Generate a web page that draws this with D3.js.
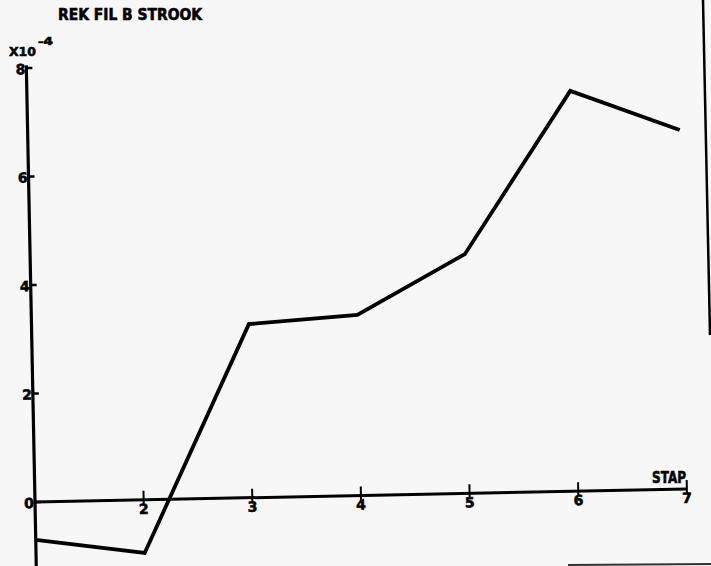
<!DOCTYPE html>
<html>
<head>
<meta charset="utf-8">
<script src="https://cdn.jsdelivr.net/npm/d3@7"></script>
<style>
  html, body { margin: 0; padding: 0; background: #f7f7f7; }
  svg { display: block; }
  text { font-family: "DejaVu Sans", sans-serif; font-weight: bold; fill: #000; stroke: #000; stroke-width: 0.6; }
</style>
</head>
<body>
<svg id="chart" width="711" height="566"></svg>
<script>
// Data (values in units of 1e-4)
const steps = [1, 2, 3, 4, 5, 6, 7];
const values = [-0.70, -0.98, 3.20, 3.33, 4.41, 7.38, 6.62];
const xTicks = [2, 3, 4, 5, 6, 7];
const yTicks = [0, 2, 4, 6, 8];
const title = "REK FIL B STROOK";
const xLabel = "STAP";
const yScaleBase = "X10";
const yScaleExp = "-4";

const W = 711, H = 566;
const svg = d3.select("#chart");
svg.append("rect").attr("width", W).attr("height", H).attr("fill", "#f7f7f7");

const x0 = 35, y0 = 502;
const x = d3.scaleLinear().domain([1, 7]).range([x0, 687]);
const y = d3.scaleLinear().domain([0, 8]).range([y0, 68]);

// whole plot is slightly tilted (scanned plot)
const g = svg.append("g").attr("transform", `rotate(-1.14, ${x0}, ${y0})`);

// y axis line
g.append("line")
  .attr("x1", x(1)).attr("x2", x(1))
  .attr("y1", y(-1.5)).attr("y2", y(8.05))
  .attr("stroke", "#000").attr("stroke-width", 3.2);

// x axis line
g.append("line")
  .attr("x1", x(1)).attr("x2", x(7))
  .attr("y1", y(0)).attr("y2", y(0))
  .attr("stroke", "#000").attr("stroke-width", 3);

// y ticks
const yt = g.selectAll(".ytick").data(yTicks).enter().append("g")
  .attr("transform", d => `translate(${x(1)},${y(d)})`);
yt.append("line").attr("x1", 0).attr("x2", 6).attr("y1", 0).attr("y2", 0)
  .attr("stroke", "#000").attr("stroke-width", 2.5);
yt.append("text").attr("x", -1).attr("y", 6).attr("text-anchor", "end")
  .attr("font-size", 14).text(d => d);

// x ticks
const xt = g.selectAll(".xtick").data(xTicks).enter().append("g")
  .attr("transform", d => `translate(${x(d)},${y(0)})`);
xt.append("line").attr("x1", 0).attr("x2", 0).attr("y1", -9).attr("y2", 4)
  .attr("stroke", "#000").attr("stroke-width", 2);
xt.append("text").attr("x", 0).attr("y", 14).attr("text-anchor", "middle")
  .attr("font-size", 14).text(d => d);

// data line
const line = d3.line().x((d, i) => x(steps[i])).y(d => y(d));
g.append("path").datum(values).attr("d", line)
  .attr("fill", "none").attr("stroke", "#000").attr("stroke-width", 3.8)
  .attr("stroke-linejoin", "miter");

// texts
svg.append("text").attr("x", 58).attr("y", 20).attr("font-size", 15)
  .attr("textLength", 144).attr("lengthAdjust", "spacingAndGlyphs").text(title);
svg.append("text").attr("x", 652).attr("y", 483).attr("font-size", 15)
  .attr("textLength", 34).attr("lengthAdjust", "spacingAndGlyphs").text(xLabel);
svg.append("text").attr("x", 9).attr("y", 56).attr("font-size", 13)
  .attr("textLength", 27).attr("lengthAdjust", "spacingAndGlyphs").text(yScaleBase);
svg.append("text").attr("x", 38).attr("y", 45).attr("font-size", 10)
  .attr("textLength", 15).attr("lengthAdjust", "spacingAndGlyphs").text(yScaleExp);

// scan edge artifacts
svg.append("line").attr("x1", 703).attr("y1", 0).attr("x2", 710).attr("y2", 335)
  .attr("stroke", "#000").attr("stroke-width", 2.5);
svg.append("line").attr("x1", 568).attr("y1", 565).attr("x2", 711).attr("y2", 564)
  .attr("stroke", "#333").attr("stroke-width", 2);
</script>
</body>
</html>
